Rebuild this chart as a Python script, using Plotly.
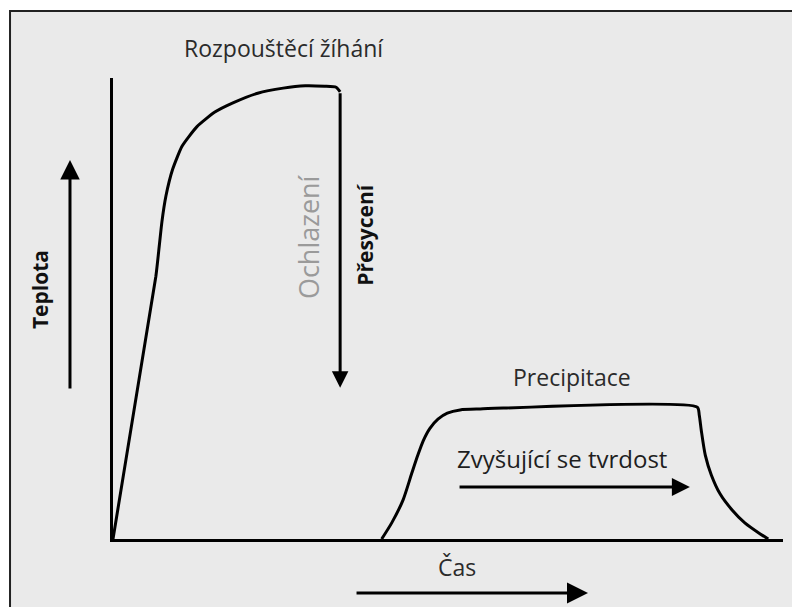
import plotly.graph_objects as go

# Solution annealing curve (time, temperature) in arbitrary units 0-100
anneal_time = [0, 6.4, 6.9, 7.3, 7.9, 8.9, 10.3, 12.5, 15.2, 17.9, 21.6, 25.4, 28.7, 31.6, 33.3, 33.9]
anneal_temp = [0, 57.0, 63.5, 68.8, 74.4, 80.2, 85.2, 89.4, 92.6, 94.6, 96.7, 97.8, 98.3, 98.2, 98.0, 97.0]

# Precipitation (ageing) curve
precip_time = [40.1, 41.6, 43.3, 44.6, 45.5, 46.3, 47.3, 48.5, 49.9, 51.8, 54.8, 87.2,
               87.5, 87.8, 88.4, 89.3, 90.6, 92.4, 94.3, 96.6, 97.8]
precip_temp = [0, 3.5, 8.5, 14.3, 18.2, 21.3, 24.0, 26.0, 27.3, 28.0, 28.2, 28.6,
               26.9, 23.6, 18.2, 13.9, 9.8, 6.3, 3.5, 1.1, 0]

# Quench: from end of anneal down to this temperature
quench_end = 32.8

DARK = "#2b2b2b"
FONT = "Open Sans"

fig = go.Figure()
fig.add_trace(go.Scatter(x=anneal_time, y=anneal_temp, mode="lines",
                         line=dict(color="black", width=3, shape="spline", smoothing=0.5),
                         hoverinfo="skip"))
fig.add_trace(go.Scatter(x=precip_time, y=precip_temp, mode="lines",
                         line=dict(color="black", width=3, shape="spline", smoothing=0.7),
                         hoverinfo="skip"))

# frame / background (only top and left edge visible)
fig.add_shape(type="rect", xref="paper", yref="paper", x0=-0.1537, y0=-0.3, x1=1.2, y1=1.1453,
              fillcolor="#eaeaea", line=dict(color="#222", width=2), layer="below")

ann = []
# arrows inside the plot
ann.append(dict(x=anneal_time[-1], y=quench_end, ax=anneal_time[-1], ay=anneal_temp[-1],
                xref="x", yref="y", axref="x", ayref="y", text="", showarrow=True,
                arrowhead=2, arrowsize=1.1, arrowwidth=3, arrowcolor="black"))
ann.append(dict(x=86.1, y=11.3, ax=51.5, ay=11.3, xref="x", yref="y", axref="x", ayref="y",
                text="", showarrow=True, arrowhead=2, arrowsize=1.2, arrowwidth=3, arrowcolor="black"))
# arrows outside the plot (axis direction arrows)
ann.append(dict(x=-0.0642, y=0.822, ax=0, ay=230, xref="paper", yref="paper", text="",
                showarrow=True, arrowhead=2, arrowsize=1.3, arrowwidth=3, arrowcolor="black"))
ann.append(dict(x=0.709, y=-0.1171, ax=-233, ay=0, xref="paper", yref="paper", text="",
                showarrow=True, arrowhead=2, arrowsize=1.4, arrowwidth=3, arrowcolor="black"))

# labels
def label(text, x, y, ref, size, color=DARK, angle=0, bold=False):
    ann.append(dict(x=x, y=y, xref=ref[0], yref=ref[1], text=f"<b>{text}</b>" if bold else text,
                    showarrow=False, textangle=angle, xanchor="center", yanchor="middle",
                    font=dict(family=FONT, size=size, color=color)))

label("Rozpouštěcí žíhání", 0.255, 1.065, ("paper", "paper"), 23)
label("Teplota", -0.109, 0.542, ("paper", "paper"), 21, color="#111", angle=-90, bold=True)
label("Čas", 0.513, -0.0607, ("paper", "paper"), 23)
label("Ochlazení", 29.1, 65.7, ("x", "y"), 27, color="#9a9a9a", angle=-90)
label("Přesycení", 37.6, 66.2, ("x", "y"), 21, color="#111", angle=-90, bold=True)
label("Precipitace", 68.5, 35.1, ("x", "y"), 23)
label("Zvyšující se tvrdost", 67.0, 17.4, ("x", "y"), 24, color="#1e1e1e")

fig.update_layout(
    width=792, height=607,
    margin=dict(l=113, r=9, t=78, b=68),
    paper_bgcolor="white", plot_bgcolor="rgba(0,0,0,0)",
    showlegend=False, annotations=ann,
)
fig.update_xaxes(range=[0, 100], showline=True, linewidth=3, linecolor="black",
                 showgrid=False, zeroline=False, showticklabels=False, ticks="")
fig.update_yaxes(range=[0, 100], showline=True, linewidth=3, linecolor="black",
                 showgrid=False, zeroline=False, showticklabels=False, ticks="")

fig.write_html("out.html", config={"displayModeBar": False},
               post_script="document.body.style.margin='0';")
